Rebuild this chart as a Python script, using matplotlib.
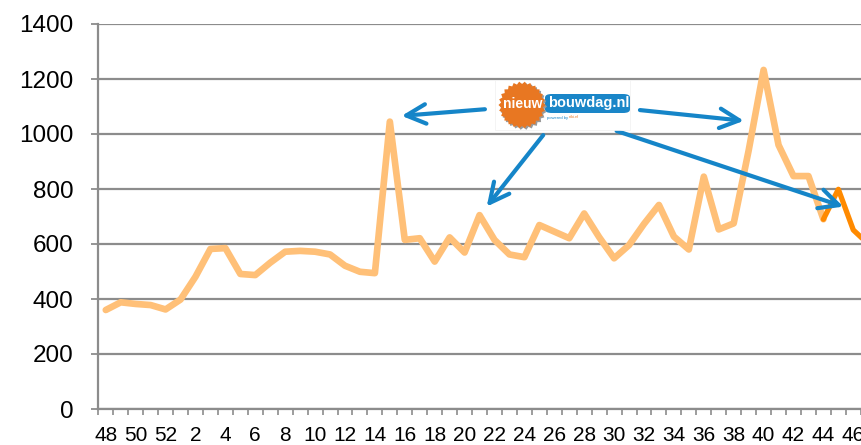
import numpy as np
import matplotlib
matplotlib.use("Agg")
import matplotlib.pyplot as plt
from matplotlib.patches import Polygon, Rectangle, FancyBboxPatch

plt.rcParams['font.family'] = ['Liberation Sans', 'DejaVu Sans']

# ---- data -------------------------------------------------------------
weeks = [48, 49, 50, 51, 52] + list(range(1, 48))
values = [360, 388, 382, 378, 362, 398, 481, 582, 585, 491,
          487, 532, 572, 575, 572, 562, 521, 499, 494, 1045,
          615, 621, 536, 624, 569, 705, 615, 562, 552, 669,
          645, 621, 711, 625, 548, 596, 673, 742, 627, 580,
          845, 653, 675, 940, 1233, 960, 847, 847, 690, 799,
          651, 600]
highlight_from_week = 44
yticks = [0, 200, 400, 600, 800, 1000, 1200, 1400]

# annotation arrows: (tail_x, tail_y, tip_x, tip_y) in category index / value units
arrows = [(25.36, 1090, 19.79, 1066),
          (35.73, 1087, 42.68, 1048),
          (29.26, 996, 25.48, 736),
          (34.17, 1011, 49.33, 736)]

# ---- figure -----------------------------------------------------------
W, H = 861, 445
fig = plt.figure(figsize=(W / 100, H / 100), dpi=100)
left_px, bottom_px, top_px = 98.3, 409, 24
ax = fig.add_axes([left_px / W, (H - bottom_px) / H, 1 - left_px / W,
                   (bottom_px - top_px) / H])

x = np.arange(len(values))
hi = weeks.index(highlight_from_week)
light = '#ffc078'
dark = '#ff8a00'
ax.plot(x[:hi + 1], values[:hi + 1], color=light, lw=4.8,
        solid_joinstyle='round', solid_capstyle='round', zorder=3)
ax.plot(x[hi:], values[hi:], color=dark, lw=3.8,
        solid_joinstyle='round', solid_capstyle='round', zorder=4)

grey = '#8c8c8c'
ax.set_yticks(yticks)
ax.yaxis.grid(True, color=grey, lw=1.6)
ax.set_axisbelow(True)
for s in ['top', 'right']:
    ax.spines[s].set_visible(False)
for s in ['left', 'bottom']:
    ax.spines[s].set_color(grey)
    ax.spines[s].set_linewidth(1.6)

ax.set_xticks(x[::2])
ax.set_xticklabels([str(w) for w in weeks[::2]])
ax.set_xticks(np.arange(-0.5, len(values), 1), minor=True)
ax.tick_params(axis='x', which='major', length=0, pad=12, labelsize=15)
ax.tick_params(axis='x', which='minor', length=4, width=1.2, color=grey)
ax.tick_params(axis='y', length=5, width=1.3, color=grey, pad=13, labelsize=17.5)
ax.set_ylim(0, 1400)
ax.set_xlim(-0.5, (W - 105.8) / 14.95)

blue = '#1585c8'
for tx, ty, hx, hy in arrows:
    ax.annotate('', xy=(hx, hy), xytext=(tx, ty), annotation_clip=False,
                arrowprops=dict(arrowstyle='->, head_length=1.4, head_width=0.7',
                                color=blue, lw=3, shrinkA=0, shrinkB=0,
                                mutation_scale=10), zorder=6)

# ---- logo (figure pixel coordinates) ---------------------------------
def fx(px):
    return px / W

def fy(py):
    return 1 - py / H

tf = fig.transFigure
fig.patches.append(Rectangle((fx(495), fy(129.5)), fx(630) - fx(495), fy(80.5) - fy(129.5),
                             transform=tf, facecolor='white', edgecolor='#f0f0f0', lw=0.5,
                             zorder=5))
fig.patches.append(FancyBboxPatch((fx(545), fy(113)), fx(630) - fx(545), fy(94) - fy(113),
                                  boxstyle='round,pad=0,rounding_size=0.008',
                                  transform=tf, facecolor='#1a86c8', edgecolor='none',
                                  zorder=6))
n = 26
ang = np.linspace(0, 2 * np.pi, 2 * n, endpoint=False)
rad = np.where(np.arange(2 * n) % 2 == 0, 23.5, 21.0)
cx, cy = 522, 105
shadow = [(fx(cx + 1.5 + r * np.cos(a)), fy(cy + 1.5 + r * np.sin(a))) for r, a in zip(rad, ang)]
star = [(fx(cx + r * np.cos(a)), fy(cy + r * np.sin(a))) for r, a in zip(rad, ang)]
fig.patches.append(Polygon(shadow, closed=True, transform=tf, facecolor='#9a9a9a',
                           edgecolor='none', zorder=6.5))
fig.patches.append(Polygon(star, closed=True, transform=tf, facecolor='#e87722',
                           edgecolor='none', zorder=7))
fig.text(fx(523), fy(104), 'nieuw', color='white', fontsize=10, fontweight='bold',
         ha='center', va='center', zorder=8)
fig.text(fx(589), fy(103), 'bouwdag.nl', color='white', fontsize=10.5, fontweight='bold',
         ha='center', va='center', zorder=8)
fig.text(fx(547), fy(117.5), 'powered by', color='#1a86c8', fontsize=3,
         ha='left', va='center', zorder=8)
fig.text(fx(569), fy(117.5), 'niki.nl', color='#e87722', fontsize=3,
         ha='left', va='center', zorder=8)

fig.savefig('out.png', dpi=100)
